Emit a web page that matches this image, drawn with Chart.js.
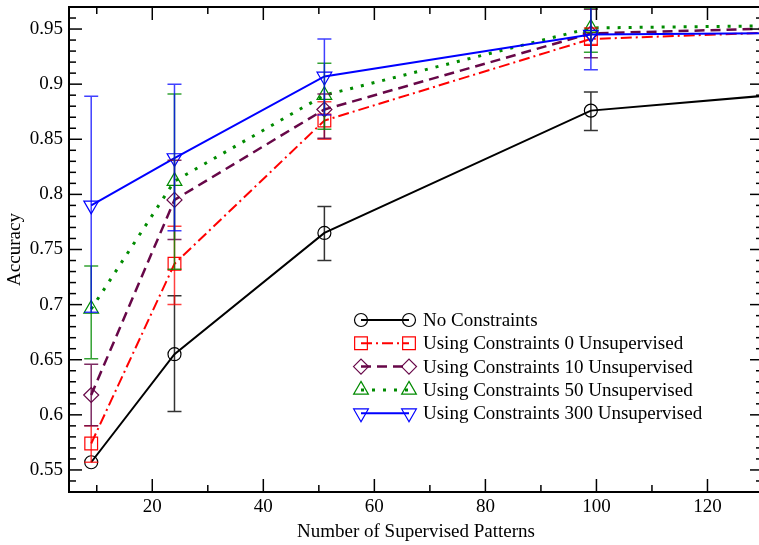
<!DOCTYPE html>
<html>
<head>
<meta charset="utf-8">
<script src="https://cdn.jsdelivr.net/npm/chart.js@4"></script>
<style>
  html, body { margin: 0; padding: 0; background: #fff; overflow: hidden; }
  #wrap { width: 766px; height: 545px; }
  canvas { display: block; }
</style>
</head>
<body>
<div id="wrap"><canvas id="myChart" width="766" height="545"></canvas></div>
<script>
// x positions (number of supervised patterns)
const patterns = [9, 24, 51, 99, 150];

const seriesLabels = [
  'No Constraints',
  'Using Constraints 0 Unsupervised',
  'Using Constraints 10 Unsupervised',
  'Using Constraints 50 Unsupervised',
  'Using Constraints 300 Unsupervised'
];

// accuracy values
const noConstraints = [0.557, 0.655, 0.765, 0.876, 0.898];
const unsup0 = [0.574, 0.737, 0.867, 0.941, 0.950];
const unsup10 = [0.618, 0.795, 0.877, 0.946, 0.953];
const unsup50 = [0.696, 0.812, 0.890, 0.951, 0.954];
const unsup300 = [0.790, 0.833, 0.907, 0.945, 0.947];

// error bar ends
const noConstraintsLow = [0.557, 0.603, 0.740, 0.858, null];
const noConstraintsHigh = [0.557, 0.708, 0.789, 0.893, null];
const unsup0Low = [0.557, 0.700, 0.850, 0.936, null];
const unsup0High = [0.590, 0.771, 0.884, 0.951, null];
const unsup10Low = [0.590, 0.759, 0.851, 0.924, null];
const unsup10High = [0.646, 0.831, 0.891, 0.968, null];
const unsup50Low = [0.651, 0.732, 0.859, 0.929, null];
const unsup50High = [0.735, 0.891, 0.919, 0.969, null];
const unsup300Low = [0.693, 0.767, 0.872, 0.913, null];
const unsup300High = [0.889, 0.900, 0.941, 0.978, null];

// ticks
const xMajorTicks = [20, 40, 60, 80, 100, 120];
const xMinorTicks = [10, 30, 50, 70, 90, 110, 130];
const yMajorTicks = [0.55, 0.6, 0.65, 0.7, 0.75, 0.8, 0.85, 0.9, 0.95];

const serif = "'Liberation Serif', 'Times New Roman', serif";
const font = { family: serif, size: 19 };

const toPoints = vals => vals.map((v, i) => ({ x: patterns[i], y: v }));

function makeSet(idx, vals, low, high, color, barColor, dash, style, radius, rotation, width, order) {
  return {
    label: seriesLabels[idx],
    data: toPoints(vals),
    errLow: low,
    errHigh: high,
    barColor: barColor,
    borderColor: color,
    backgroundColor: 'rgba(0,0,0,0)',
    borderWidth: width,
    borderDash: dash,
    borderCapStyle: 'butt',
    pointStyle: style,
    pointRadius: radius,
    pointRotation: rotation,
    pointBorderWidth: 1.2,
    pointBorderColor: color,
    pointBackgroundColor: 'rgba(0,0,0,0)',
    tension: 0,
    order: order
  };
}

const datasets = [
  makeSet(0, noConstraints, noConstraintsLow, noConstraintsHigh, '#000000', 'rgba(0,0,0,0.8)', [], 'circle', 6.5, 0, 2, 4),
  makeSet(1, unsup0, unsup0Low, unsup0High, '#ff0000', 'rgba(255,0,0,0.75)', [11, 4, 2, 4], 'rect', 9, 0, 2, 3),
  makeSet(2, unsup10, unsup10Low, unsup10High, 'rgb(103,7,72)', 'rgba(103,7,72,0.85)', [10, 6], 'rectRot', 7.5, 0, 2.5, 2),
  makeSet(3, unsup50, unsup50Low, unsup50High, 'rgb(0,139,0)', 'rgba(0,139,0,0.8)', [3, 8], 'triangle', 8.5, 0, 3, 1),
  makeSet(4, unsup300, unsup300Low, unsup300High, '#0000ff', 'rgba(0,0,255,0.75)', [], 'triangle', 8.5, 180, 2, 0)
];

const errorBarPlugin = {
  id: 'errorBars',
  afterDatasetsDraw(chart) {
    const { ctx, chartArea: a, scales: { x, y } } = chart;
    ctx.save();
    ctx.beginPath();
    ctx.rect(a.left, a.top, a.right - a.left, a.bottom - a.top);
    ctx.clip();
    chart.data.datasets.forEach(ds => {
      ctx.strokeStyle = ds.barColor;
      ctx.lineWidth = 1.5;
      ctx.setLineDash([]);
      ds.data.forEach((p, i) => {
        const lo = ds.errLow[i], hi = ds.errHigh[i];
        if (lo == null || hi == null || lo === hi) return;
        const px = x.getPixelForValue(p.x);
        const y1 = y.getPixelForValue(lo), y2 = y.getPixelForValue(hi);
        ctx.beginPath();
        ctx.moveTo(px, y1); ctx.lineTo(px, y2);
        ctx.moveTo(px - 7, y1); ctx.lineTo(px + 7, y1);
        ctx.moveTo(px - 7, y2); ctx.lineTo(px + 7, y2);
        ctx.stroke();
      });
    });
    ctx.restore();
  }
};

// frame with inward ticks on all four sides
const framePlugin = {
  id: 'frame',
  afterDraw(chart) {
    const { ctx, chartArea: a, scales: { x, y } } = chart;
    ctx.save();
    ctx.strokeStyle = '#000';
    ctx.setLineDash([]);
    ctx.lineWidth = 1.5;
    const tick = (x1, y1, x2, y2) => { ctx.beginPath(); ctx.moveTo(x1, y1); ctx.lineTo(x2, y2); ctx.stroke(); };
    xMajorTicks.forEach(v => {
      const px = x.getPixelForValue(v);
      tick(px, a.bottom, px, a.bottom - 13);
      tick(px, a.top, px, a.top + 13);
    });
    xMinorTicks.forEach(v => {
      const px = x.getPixelForValue(v);
      tick(px, a.bottom, px, a.bottom - 7);
      tick(px, a.top, px, a.top + 7);
    });
    for (let k = 53; k <= 97; k++) {
      const py = y.getPixelForValue(k / 100);
      const len = k % 5 === 0 ? 13 : 7;
      tick(a.left, py, a.left + len, py);
      tick(a.right, py, a.right - len, py);
    }
    ctx.lineWidth = 2;
    ctx.strokeRect(a.left, a.top, a.right - a.left, a.bottom - a.top);
    ctx.restore();
  }
};

// legend: line sample with a marker at both ends
const legendPlugin = {
  id: 'sampleLegend',
  afterDraw(chart) {
    const { ctx } = chart;
    const x1 = 361, x2 = 409, tx = 423, y0 = 320, dy = 23.3;
    ctx.save();
    chart.data.datasets.forEach((ds, i) => {
      const yy = y0 + i * dy;
      ctx.strokeStyle = ds.borderColor;
      ctx.lineWidth = ds.borderWidth;
      ctx.setLineDash(ds.borderDash);
      ctx.beginPath(); ctx.moveTo(x1, yy); ctx.lineTo(x2, yy); ctx.stroke();
      ctx.setLineDash([]);
      ctx.fillStyle = 'rgba(0,0,0,0)';
      const opts = { pointStyle: ds.pointStyle, radius: ds.pointRadius, rotation: ds.pointRotation, borderWidth: 1.2 };
      ctx.lineWidth = 1.2;
      Chart.helpers.drawPoint(ctx, opts, x1, yy);
      Chart.helpers.drawPoint(ctx, opts, x2, yy);
      ctx.fillStyle = '#000';
      ctx.font = '19px ' + serif;
      ctx.textBaseline = 'middle';
      ctx.textAlign = 'left';
      ctx.fillText(ds.label, tx, yy + 1);
    });
    ctx.restore();
  }
};

new Chart(document.getElementById('myChart'), {
  type: 'line',
  data: { datasets: datasets },
  plugins: [errorBarPlugin, framePlugin, legendPlugin],
  options: {
    responsive: false,
    animation: false,
    layout: { autoPadding: false, padding: { top: 7, right: 3, left: 0, bottom: 0 } },
    plugins: { legend: { display: false }, tooltip: { enabled: false } },
    scales: {
      x: {
        type: 'linear',
        min: 5,
        max: 130,
        afterBuildTicks: s => { s.ticks = xMajorTicks.map(v => ({ value: v })); },
        afterFit: s => { s.height = 53; s.paddingLeft = 0; s.paddingRight = 0; },
        grid: { display: false, drawTicks: false },
        border: { display: false },
        ticks: { autoSkip: false, maxRotation: 0, padding: 4, color: '#000', font: font },
        title: { display: true, text: 'Number of Supervised Patterns', color: '#000', font: font, padding: { top: 0, bottom: 2 } }
      },
      y: {
        type: 'linear',
        min: 0.53,
        max: 0.97,
        afterBuildTicks: s => { s.ticks = yMajorTicks.map(v => ({ value: v })); },
        afterFit: s => { s.width = 69; s.paddingTop = 0; s.paddingBottom = 0; },
        grid: { display: false, drawTicks: false },
        border: { display: false },
        ticks: { autoSkip: false, padding: 6, color: '#000', font: font, callback: v => String(v) },
        title: { display: true, text: 'Accuracy', color: '#000', font: font, padding: { top: 4, bottom: 0 } }
      }
    }
  }
});
</script>
</body>
</html>
